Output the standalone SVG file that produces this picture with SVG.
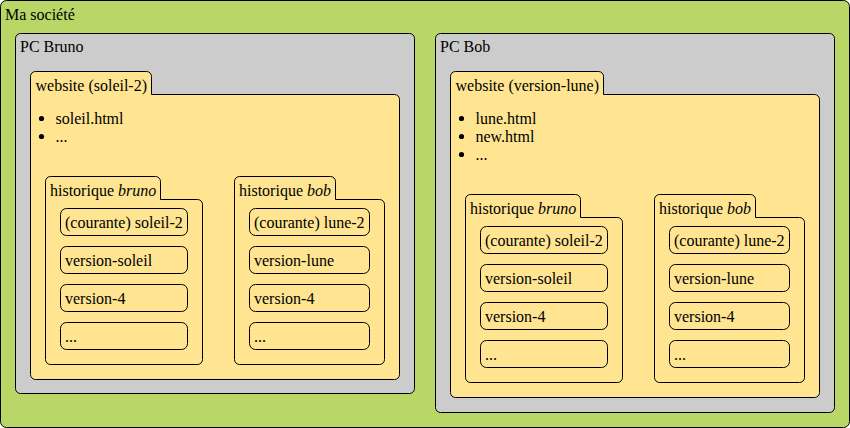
<svg xmlns="http://www.w3.org/2000/svg" width="850" height="428" viewBox="0 0 850 428">
<style>
text{font-family:"Liberation Serif","Times New Roman",serif;font-size:16px;fill:#000}
.box{stroke:#000;stroke-width:1}
.org{fill:#b8d766}
.pc{fill:#cccccc}
.folder{fill:#ffe591;stroke:#000;stroke-width:1}
.item{fill:#ffe591;stroke:#000;stroke-width:1}
.it{font-style:italic}
</style>
<g id="societe">
<rect class="box org" x="0.5" y="0.5" width="849" height="427" rx="6"/>
<text x="5" y="20">Ma société</text>
</g>
<g id="pc-bruno">
<rect class="box pc" x="15.5" y="33.5" width="399" height="360" rx="5"/>
<text x="20" y="52">PC Bruno</text>
<g id="website-bruno">
<path class="folder" d="M30.5,76.5 A5,5 0 0 1 35.5,71.5 H146.5 A5,5 0 0 1 151.5,76.5 V94.5 H394.5 A5,5 0 0 1 399.5,99.5 V374.5 A5,5 0 0 1 394.5,379.5 H35.5 A5,5 0 0 1 30.5,374.5 Z"/>
<text x="35.5" y="90.5">website (soleil-2)</text>
<circle cx="41.5" cy="118.5" r="2.6"/>
<text x="55.5" y="123.5">soleil.html</text>
<circle cx="41.5" cy="136.5" r="2.6"/>
<text x="55.5" y="141.5">...</text>
</g>
<g id="hist-bruno-bruno">
<path class="folder" d="M45.5,181.5 A5,5 0 0 1 50.5,176.5 H155.5 A5,5 0 0 1 160.5,181.5 V199.5 H197.5 A5,5 0 0 1 202.5,204.5 V359.5 A5,5 0 0 1 197.5,364.5 H50.5 A5,5 0 0 1 45.5,359.5 Z"/>
<text x="50" y="196">historique <tspan class="it">bruno</tspan></text>
<rect class="item" x="60.5" y="208.5" width="127" height="27" rx="6"/>
<text x="65" y="227.5">(courante) soleil-2</text>
<rect class="item" x="60.5" y="246.5" width="127" height="27" rx="6"/>
<text x="65" y="265.5">version-soleil</text>
<rect class="item" x="60.5" y="284.5" width="127" height="27" rx="6"/>
<text x="65" y="303.5">version-4</text>
<rect class="item" x="60.5" y="322.5" width="127" height="27" rx="6"/>
<text x="65" y="341.5">...</text>
</g>
<g id="hist-bruno-bob">
<path class="folder" d="M234.5,181.5 A5,5 0 0 1 239.5,176.5 H330.5 A5,5 0 0 1 335.5,181.5 V199.5 H379.5 A5,5 0 0 1 384.5,204.5 V359.5 A5,5 0 0 1 379.5,364.5 H239.5 A5,5 0 0 1 234.5,359.5 Z"/>
<text x="239" y="196">historique <tspan class="it">bob</tspan></text>
<rect class="item" x="249.5" y="208.5" width="120" height="27" rx="6"/>
<text x="254" y="227.5">(courante) lune-2</text>
<rect class="item" x="249.5" y="246.5" width="120" height="27" rx="6"/>
<text x="254" y="265.5">version-lune</text>
<rect class="item" x="249.5" y="284.5" width="120" height="27" rx="6"/>
<text x="254" y="303.5">version-4</text>
<rect class="item" x="249.5" y="322.5" width="120" height="27" rx="6"/>
<text x="254" y="341.5">...</text>
</g>
</g>
<g id="pc-bob">
<rect class="box pc" x="435.5" y="33.5" width="399" height="379" rx="5"/>
<text x="440" y="52">PC Bob</text>
<g id="website-bob">
<path class="folder" d="M450.5,76.5 A5,5 0 0 1 455.5,71.5 H598.5 A5,5 0 0 1 603.5,76.5 V94.5 H814.5 A5,5 0 0 1 819.5,99.5 V392.5 A5,5 0 0 1 814.5,397.5 H455.5 A5,5 0 0 1 450.5,392.5 Z"/>
<text x="455.5" y="90.5">website (version-lune)</text>
<circle cx="461.5" cy="118.5" r="2.6"/>
<text x="475.5" y="123.5">lune.html</text>
<circle cx="461.5" cy="136.5" r="2.6"/>
<text x="475.5" y="141.5">new.html</text>
<circle cx="461.5" cy="154.5" r="2.6"/>
<text x="475.5" y="159.5">...</text>
</g>
<g id="hist-bob-bruno">
<path class="folder" d="M465.5,199.5 A5,5 0 0 1 470.5,194.5 H575.5 A5,5 0 0 1 580.5,199.5 V217.5 H617.5 A5,5 0 0 1 622.5,222.5 V377.5 A5,5 0 0 1 617.5,382.5 H470.5 A5,5 0 0 1 465.5,377.5 Z"/>
<text x="470" y="214">historique <tspan class="it">bruno</tspan></text>
<rect class="item" x="480.5" y="226.5" width="127" height="27" rx="6"/>
<text x="485" y="245.5">(courante) soleil-2</text>
<rect class="item" x="480.5" y="264.5" width="127" height="27" rx="6"/>
<text x="485" y="283.5">version-soleil</text>
<rect class="item" x="480.5" y="302.5" width="127" height="27" rx="6"/>
<text x="485" y="321.5">version-4</text>
<rect class="item" x="480.5" y="340.5" width="127" height="27" rx="6"/>
<text x="485" y="359.5">...</text>
</g>
<g id="hist-bob-bob">
<path class="folder" d="M654.5,199.5 A5,5 0 0 1 659.5,194.5 H750.5 A5,5 0 0 1 755.5,199.5 V217.5 H799.5 A5,5 0 0 1 804.5,222.5 V377.5 A5,5 0 0 1 799.5,382.5 H659.5 A5,5 0 0 1 654.5,377.5 Z"/>
<text x="659" y="214">historique <tspan class="it">bob</tspan></text>
<rect class="item" x="669.5" y="226.5" width="120" height="27" rx="6"/>
<text x="674" y="245.5">(courante) lune-2</text>
<rect class="item" x="669.5" y="264.5" width="120" height="27" rx="6"/>
<text x="674" y="283.5">version-lune</text>
<rect class="item" x="669.5" y="302.5" width="120" height="27" rx="6"/>
<text x="674" y="321.5">version-4</text>
<rect class="item" x="669.5" y="340.5" width="120" height="27" rx="6"/>
<text x="674" y="359.5">...</text>
</g>
</g>
<g id="connectors"/>
</svg>
